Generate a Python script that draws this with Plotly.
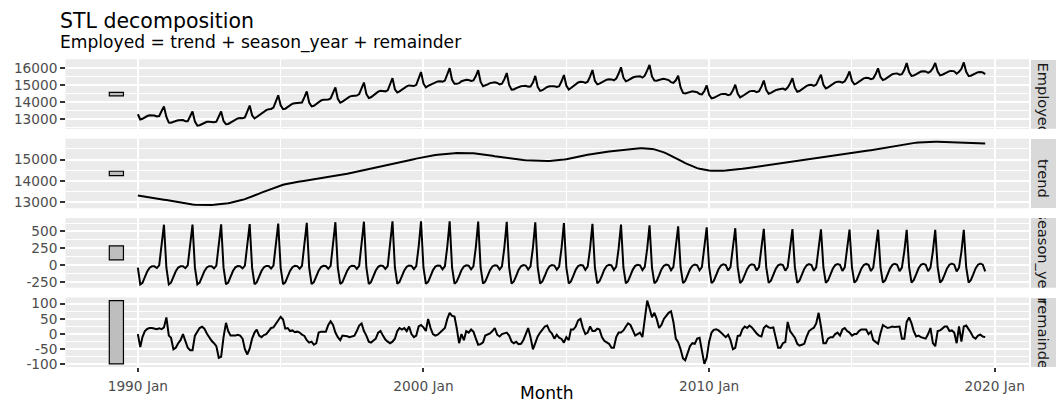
import pandas as pd
import plotly.graph_objects as go

# STL components of retail employment (thousands), monthly from 1990 Jan
trend = [
    13320, 13305, 13290, 13272, 13255, 13238, 13220, 13203, 13185, 13165, 13145, 13125,
    13105, 13083, 13061, 13040, 13018, 12996, 12975, 12955, 12937, 12922, 12910, 12900,
    12891, 12884, 12878, 12874, 12872, 12872, 12874, 12878, 12884, 12892, 12902, 12914,
    12928, 12944, 12962, 12982, 13004, 13028, 13055, 13085, 13117, 13152, 13190, 13230,
    13272, 13316, 13361, 13407, 13453, 13498, 13542, 13585, 13627, 13667, 13704, 13738,
    13790, 13822, 13850, 13876, 13899, 13920, 13939, 13957, 13974, 13991, 14008, 14024,
    14040, 14056, 14072, 14088, 14104, 14120, 14137, 14154, 14171, 14188, 14206, 14224,
    14245, 14268, 14291, 14314, 14337, 14360, 14383, 14406, 14429, 14452, 14475, 14498,
    14521, 14544, 14567, 14590, 14614, 14638, 14662, 14686, 14710, 14735, 14760, 14785,
    14810, 14836, 14862, 14888, 14914, 14940, 14966, 14992, 15018, 15043, 15068, 15092,
    15115, 15136, 15156, 15175, 15193, 15210, 15226, 15241, 15254, 15266, 15276, 15285,
    15292, 15299, 15305, 15309, 15311, 15311, 15309, 15305, 15299, 15291, 15281, 15269,
    15256, 15242, 15227, 15211, 15194, 15176, 15158, 15140, 15122, 15104, 15086, 15069,
    15053, 15038, 15024, 15011, 14999, 14988, 14978, 14969, 14961, 14954, 14948, 14943,
    14935, 14932, 14931, 14931, 14933, 14937, 14943, 14951, 14961, 14973, 14987, 15002,
    15019, 15038, 15059, 15082, 15106, 15130, 15154, 15178, 15201, 15223, 15244, 15264,
    15283, 15301, 15318, 15334, 15349, 15363, 15377, 15391, 15405, 15419, 15433, 15447,
    15461, 15474, 15486, 15497, 15507, 15515, 15521, 15525, 15527, 15526, 15522, 15514,
    15495, 15475, 15450, 15418, 15380, 15336, 15287, 15234, 15178, 15120, 15062, 15004,
    14946, 14889, 14833, 14779, 14728, 14681, 14638, 14600, 14567, 14540, 14518, 14502,
    14490, 14481, 14475, 14472, 14471, 14473, 14477, 14483, 14491, 14501, 14512, 14524,
    14537, 14551, 14566, 14581, 14597, 14613, 14629, 14645, 14661, 14677, 14693, 14709,
    14724, 14739, 14754, 14768, 14782, 14796, 14810, 14824, 14838, 14852, 14866, 14880,
    14894, 14908, 14923, 14938, 14953, 14968, 14984, 15000, 15016, 15032, 15049, 15066,
    15083, 15100, 15117, 15134, 15151, 15168, 15186, 15204, 15222, 15240, 15258, 15276,
    15294, 15312, 15330, 15348, 15366, 15384, 15402, 15420, 15438, 15457, 15476, 15495,
    15514, 15535, 15556, 15577, 15598, 15619, 15640, 15661, 15681, 15700, 15718, 15735,
    15751, 15766, 15779, 15790, 15800, 15808, 15815, 15820, 15824, 15826, 15827, 15827,
    15826, 15824, 15822, 15819, 15816, 15813, 15810, 15806, 15802, 15798, 15794, 15790,
    15786, 15782, 15778, 15774, 15770, 15766, 15762, 15758, 15754,
]

season_year = [
    -40, -290, -265, -180, -95, -40, -20, -20, -45, -5, 310, 600,
    -40, -289, -264, -179, -93, -38, -19, -19, -47, -6, 306, 602,
    -39, -288, -262, -177, -92, -37, -17, -18, -49, -8, 302, 605,
    -39, -287, -261, -176, -90, -35, -16, -17, -50, -9, 298, 610,
    -39, -286, -259, -174, -89, -34, -14, -16, -52, -10, 294, 618,
    -38, -285, -258, -173, -87, -32, -13, -16, -54, -11, 290, 628,
    -38, -284, -256, -171, -85, -30, -11, -15, -56, -13, 286, 638,
    -38, -282, -255, -170, -84, -29, -10, -14, -57, -14, 282, 645,
    -37, -281, -254, -169, -82, -27, -9, -13, -59, -15, 279, 650,
    -37, -280, -252, -167, -80, -26, -7, -12, -61, -16, 275, 652,
    -36, -279, -251, -166, -79, -24, -6, -11, -63, -18, 271, 652,
    -36, -278, -249, -164, -77, -22, -4, -10, -65, -19, 267, 648,
    -36, -277, -248, -163, -76, -21, -3, -9, -66, -20, 263, 642,
    -35, -276, -246, -161, -74, -19, -1, -8, -68, -21, 259, 635,
    -35, -275, -245, -160, -72, -18, 0, -8, -70, -23, 255, 625,
    -35, -274, -244, -159, -71, -16, 1, -7, -72, -24, 251, 615,
    -34, -273, -242, -157, -69, -14, 3, -6, -74, -25, 247, 602,
    -34, -272, -241, -156, -68, -13, 4, -5, -75, -26, 243, 590,
    -34, -271, -239, -154, -66, -11, 6, -4, -77, -28, 239, 575,
    -33, -270, -238, -153, -64, -10, 7, -3, -79, -29, 235, 560,
    -33, -269, -236, -151, -63, -8, 9, -2, -81, -30, 231, 548,
    -32, -268, -235, -150, -61, -6, 10, -1, -82, -31, 228, 540,
    -32, -266, -233, -149, -60, -5, 11, 0, -84, -33, 224, 535,
    -32, -265, -232, -147, -58, -3, 13, 1, -86, -34, 220, 530,
    -31, -264, -231, -146, -56, -2, 14, 2, -88, -35, 216, 528,
    -31, -263, -229, -144, -55, 0, 16, 3, -90, -36, 212, 526,
    -31, -262, -228, -143, -53, 2, 17, 4, -91, -38, 208, 525,
    -30, -261, -226, -141, -52, 3, 19, 4, -93, -39, 204, 525,
    -30, -260, -225, -140, -50, 5, 20, 5, -95, -40, 200, 525,
    -30, -260, -225, -140, -50, 5, 20, 5, -95,
]

remainder = [
    0, -43, -10, 10, 17, 20, 20, 19, 16, 19, 16, 22,
    55, -5, -12, -50, -45, -30, -20, 0, -20, -45, -53, -53,
    -5, 10, 20, 24, 18, 2, -12, -22, -30, -40, -78, -75,
    -10, 37, 10, -5, -5, -5, -2, -5, -15, -50, -67, -48,
    -15, 5, 15, -5, -10, -3, 0, 12, 20, 22, 35, 45,
    57, 48, 18, 20, 10, 12, 6, 8, 5, -2, -6, -20,
    -28, -25, -35, -30, 5, 8, 8, 8, 30, 42, 30, 5,
    -10, -20, -5, -5, -7, -10, -8, -5, 10, 28, 35, 10,
    -5, -25, -28, -20, -15, 5, 10, -5, -18, -25, -30, -25,
    -15, 10, 20, 15, 20, 10, 25, 0, -10, -5, 25, 30,
    22, 10, 50, 20, 0, -5, -2, 5, 12, 20, 50, 70,
    60, 58, 20, -30, 0, -20, 10, 5, 15, 8, -15, -35,
    -33, -27, -5, 0, 2, 10, 20, -2, -8, 0, 3, 5,
    -5, -25, -30, -25, -33, -32, -20, 0, 20, -10, -50, -30,
    -8, 5, 15, 25, 28, 10, 2, -15, -2, -12, -16, -28,
    -10, -20, 15, 15, 25, 45, 50, 20, 0, 5, 25, 10,
    10, 18, 15, -10, -22, -26, -32, -45, -45, -10, 5, 5,
    12, 25, 35, 30, 10, -5, 0, 5, -10, 55, 110, 85,
    55, 70, 50, 20, 30, 50, 62, 70, 75, 40, -15, -27,
    -50, -80, -86, -60, -40, -30, -32, -15, -12, -55, -98, -78,
    -25, 5, 14, 16, 12, 5, -3, -10, -2, -20, -50, -45,
    -6, -5, 15, 25, 20, 28, 22, 10, 2, -5, -8, 20,
    28, 22, 20, 22, -15, -45, -45, -30, -26, 40, 10, -3,
    -12, -32, -38, -35, -32, -8, 10, 16, 21, 35, 70, 25,
    -30, -30, -15, -10, -10, 0, 5, -5, 15, 20, 10, 5,
    -5, 0, 0, 10, 15, 15, 15, 0, 8, -20, -27, -32,
    3, 30, 25, 20, 22, 25, 23, 25, 25, -15, -15, 40,
    55, 35, 10, -8, -5, -10, -12, -15, 0, 20, -30, -40,
    10, 12, 18, 25, 25, 10, 12, 5, -30, 25, -25, 25,
    28, 18, 5, -10, -15, -5, -2, -8, -10,
]

employed = [
    13280, 12972, 13015, 13102, 13177, 13218, 13220, 13202, 13156, 13179, 13471, 13747,
    13120, 12789, 12785, 12811, 12880, 12928, 12936, 12936, 12870, 12871, 13163, 13449,
    12847, 12606, 12636, 12721, 12798, 12837, 12845, 12838, 12805, 12844, 13126, 13444,
    12879, 12694, 12711, 12801, 12909, 12988, 13037, 13063, 13052, 13093, 13421, 13792,
    13218, 13035, 13117, 13228, 13354, 13461, 13528, 13581, 13595, 13679, 14033, 14401,
    13809, 13585, 13610, 13723, 13822, 13900, 13932, 13949, 13925, 13978, 14292, 14632,
    13974, 13747, 13781, 13887, 14024, 14098, 14134, 14147, 14145, 14217, 14522, 14867,
    14197, 13966, 14031, 14139, 14246, 14321, 14365, 14387, 14382, 14466, 14792, 15153,
    14479, 14238, 14285, 14401, 14517, 14616, 14663, 14668, 14633, 14695, 15009, 15410,
    14758, 14566, 14630, 14736, 14854, 14924, 14984, 14980, 14947, 15022, 15368, 15774,
    15101, 14867, 14955, 15029, 15114, 15181, 15218, 15235, 15203, 15268, 15597, 16007,
    15316, 15079, 15076, 15115, 15234, 15269, 15315, 15300, 15249, 15280, 15533, 15882,
    15187, 14938, 14974, 15048, 15120, 15165, 15175, 15129, 15048, 15084, 15352, 15716,
    15013, 14737, 14748, 14825, 14892, 14937, 14957, 14961, 14913, 14923, 15157, 15548,
    14892, 14662, 14701, 14796, 14889, 14929, 14945, 14928, 14889, 14938, 15226, 15599,
    14974, 14744, 14830, 14938, 15060, 15159, 15205, 15191, 15129, 15204, 15520, 15889,
    15259, 15046, 15091, 15167, 15258, 15323, 15348, 15340, 15286, 15384, 15685, 16054,
    15439, 15227, 15280, 15371, 15449, 15497, 15525, 15525, 15442, 15555, 15875, 16189,
    15516, 15274, 15261, 15284, 15344, 15375, 15355, 15300, 15176, 15132, 15286, 15552,
    14863, 14539, 14509, 14566, 14624, 14641, 14613, 14582, 14476, 14456, 14655, 14984,
    14432, 14217, 14253, 14337, 14420, 14470, 14483, 14471, 14408, 14451, 14693, 15027,
    14499, 14278, 14346, 14456, 14556, 14635, 14661, 14654, 14581, 14641, 14913, 15269,
    14720, 14495, 14541, 14641, 14707, 14746, 14776, 14794, 14728, 14859, 15100, 15412,
    14850, 14611, 14653, 14756, 14863, 14957, 15007, 15017, 14951, 15033, 15339, 15621,
    15022, 14806, 14871, 14978, 15085, 15166, 15205, 15201, 15149, 15225, 15484, 15809,
    15258, 15049, 15101, 15214, 15326, 15399, 15433, 15423, 15356, 15401, 15661, 15989,
    15486, 15303, 15353, 15454, 15567, 15646, 15680, 15690, 15615, 15647, 15911, 16300,
    15776, 15540, 15563, 15641, 15743, 15801, 15822, 15809, 15731, 15807, 16001, 16312,
    15806, 15576, 15615, 15704, 15791, 15828, 15842, 15816, 15677, 15783, 15969, 16340,
    15784, 15540, 15558, 15624, 15705, 15766, 15780, 15755, 15649,
]

panel_names = ["Employed", "trend", "season_year", "remainder"]
y_ticks = [
    [13000, 14000, 15000, 16000],
    [13000, 14000, 15000, 16000],
    [-250, 0, 250, 500],
    [-100, -50, 0, 50, 100],
]
y_minor = [
    [12500, 13500, 14500, 15500, 16500],
    [12500, 13500, 14500, 15500, 16500],
    [-375, -125, 125, 375, 625],
    [-125, -75, -25, 25, 75, 125],
]
x_ticks = ["1990-01-01", "2000-01-01", "2010-01-01", "2020-01-01"]
x_tick_text = ["1990 Jan", "2000 Jan", "2010 Jan", "2020 Jan"]

months = pd.date_range("1990-01-01", periods=len(employed), freq="MS")
series = [employed, trend, season_year, remainder]

# ---- page geometry (pixels) ----
W, H = 1056, 403
LEFT, RIGHT = 65.5, 1029.0
TOPS = [58.3, 139.1, 219.9, 300.7]
PH = 70.8
STRIP_X0 = 1031.0
STRIP_TEXT_DROP = 5.0


def yp(px):
    return 1 - px / H


def xp(px):
    return px / W


# scale bars: same height (range of the remainder) in every panel
bar_x0 = pd.Timestamp("1989-01-01")
bar_x1 = pd.Timestamp("1989-07-01")
bar_half = (max(remainder) - min(remainder)) / 2

span = months[-1] - bar_x0
x_range = [bar_x0 - span * 0.05, months[-1] + span * 0.05]

GRID = "white"
TICK_FONT = dict(family="DejaVu Sans", size=13.7, color="#4D4D4D")

fig = go.Figure()
shapes = []
annotations = []

for k, (name, vals) in enumerate(zip(panel_names, series)):
    yname = "y" if k == 0 else f"y{k + 1}"
    axname = "yaxis" if k == 0 else f"yaxis{k + 1}"
    lo, hi = min(vals), max(vals)
    mid = (lo + hi) / 2
    b0, b1 = mid - bar_half, mid + bar_half
    lo, hi = min(lo, b0), max(hi, b1)
    pad = (hi - lo) * 0.05

    fig.add_trace(go.Scatter(
        x=months, y=vals, mode="lines", xaxis="x", yaxis=yname,
        line=dict(color="black", width=2), showlegend=False,
        hoverinfo="x+y",
    ))

    shapes.append(dict(
        type="rect", xref="x", yref=yname,
        x0=bar_x0, x1=bar_x1, y0=b0, y1=b1,
        fillcolor="#BEBEBE", line=dict(color="black", width=1.2), layer="above",
    ))

    top = TOPS[k]
    fig.layout[axname] = dict(
        domain=[yp(top + PH), yp(top)],
        range=[lo - pad, hi + pad],
        anchor="x",
        tickvals=y_ticks[k],
        ticktext=[str(v) for v in y_ticks[k]],
        ticks="outside", ticklen=4.3, tickwidth=1.5, tickcolor="#333333",
        tickfont=TICK_FONT,
        showgrid=True, gridcolor=GRID, gridwidth=1.7,
        minor=dict(tickvals=y_minor[k], showgrid=True, gridcolor=GRID, gridwidth=0.85),
        zeroline=False, showline=False, fixedrange=True,
    )

    # facet strip
    shapes.append(dict(
        type="rect", xref="paper", yref="paper",
        x0=xp(STRIP_X0), x1=xp(W + 30), y0=yp(top + PH), y1=yp(top),
        fillcolor="#D9D9D9", line=dict(width=0), layer="below",
    ))
    annotations.append(dict(
        text=name, xref="paper", yref="paper",
        x=xp(STRIP_X0 + 12.5), y=yp(top + PH / 2 + STRIP_TEXT_DROP),
        xanchor="center", yanchor="middle", textangle=90, showarrow=False,
        font=dict(family="DejaVu Sans", size=14.6, color="#1A1A1A"),
    ))

# strip labels are clipped to their strip: cover the spill into the gaps
gap_edges = [(TOPS[0] - 20, TOPS[0])]
for k in range(3):
    gap_edges.append((TOPS[k] + PH, TOPS[k + 1]))
gap_edges.append((TOPS[3] + PH, TOPS[3] + PH + 20))
for g0, g1 in gap_edges:
    annotations.append(dict(
        text=" ", xref="paper", yref="paper",
        x=xp(STRIP_X0 - 1), y=yp(g0), xanchor="left", yanchor="top",
        width=W - STRIP_X0 + 1, height=g1 - g0, bgcolor="white",
        borderpad=0, borderwidth=0, showarrow=False, font=dict(size=1),
    ))

annotations += [
    dict(text="STL decomposition", xref="paper", yref="paper",
         x=xp(58), y=yp(19.5), xanchor="left", yanchor="middle", showarrow=False,
         font=dict(family="DejaVu Sans", size=20.5, color="black")),
    dict(text="Employed = trend + season_year + remainder", xref="paper", yref="paper",
         x=xp(58), y=yp(41.5), xanchor="left", yanchor="middle", showarrow=False,
         font=dict(family="DejaVu Sans", size=17.1, color="black")),
    dict(text="Month", xref="paper", yref="paper",
         x=xp((LEFT + RIGHT) / 2), y=yp(385.5), xanchor="center", yanchor="top",
         showarrow=False, font=dict(family="DejaVu Sans", size=17.1, color="black")),
]

fig.update_layout(
    width=W, height=H, autosize=False,
    margin=dict(l=0, r=0, t=0, b=0),
    paper_bgcolor="white", plot_bgcolor="#EBEBEB",
    showlegend=False,
    xaxis=dict(
        domain=[xp(LEFT), xp(RIGHT)], range=x_range, type="date", anchor="y4",
        tickvals=x_ticks, ticktext=x_tick_text,
        ticks="outside", ticklen=4.3, tickwidth=1.5, tickcolor="#333333",
        tickfont=TICK_FONT, ticklabelstandoff=2,
        showgrid=True, gridcolor=GRID, gridwidth=1.7,
        minor=dict(dtick="M60", tick0="1985-01-01", showgrid=True,
                   gridcolor=GRID, gridwidth=0.85),
        zeroline=False, showline=False, fixedrange=True,
    ),
    shapes=shapes,
    annotations=annotations,
)

fig.write_html("out.html", config={"displayModeBar": False})
